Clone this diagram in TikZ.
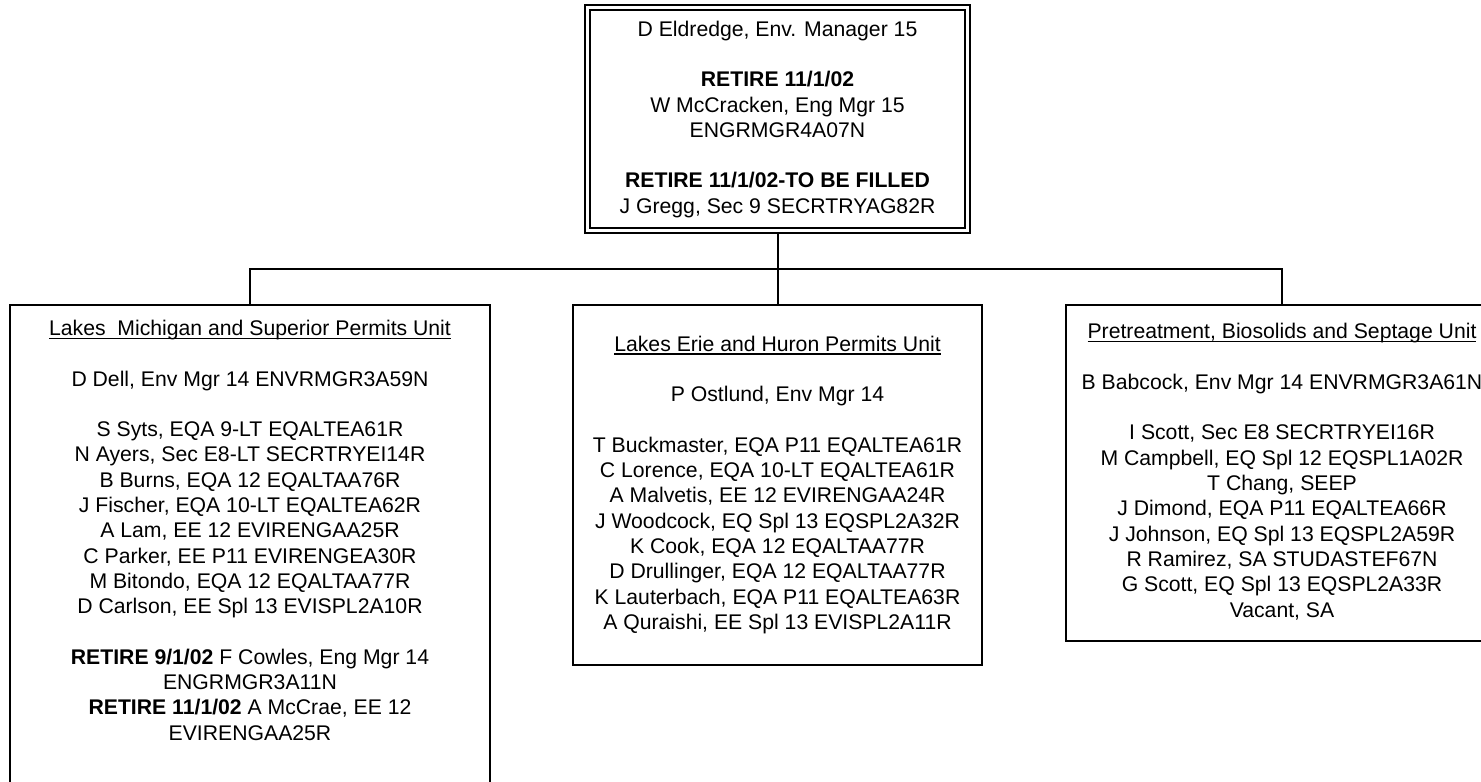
\documentclass[tikz,border=0pt]{standalone}
\usepackage{fontspec}
\setmainfont{Liberation Sans}
\usetikzlibrary{backgrounds}
\newcommand\myul[1]{\setbox0\hbox{#1}\rlap{\rule[-1.7pt]{\wd0}{0.6pt}}\box0}
\newcommand\fstrut{\rule{0pt}{8pt}}
\tikzset{
  boxnode/.style={draw, line width=1pt, inner sep=0pt, rectangle},
  topbox/.style={draw, line width=0.7pt, double, double distance=1.8pt, inner sep=0pt, rectangle},
  txt/.style={anchor=north, inner sep=0pt, align=center, font=\fontsize{10.6pt}{12.65pt}\selectfont},
  conn/.style={draw, line width=1pt}
}
\begin{document}
\begin{tikzpicture}[x=0.5pt, y=-0.5pt]
\useasboundingbox (0,0) rectangle (1481,781);
\clip (0,0) rectangle (1481,781);

\node[topbox, minimum width=190pt, minimum height=111.5pt] (top) at (777.5,119) {};
\node[boxnode, minimum width=240pt, minimum height=247.5pt] (left) at (250,552.5) {};
\node[boxnode, minimum width=204.5pt, minimum height=180pt] (mid) at (777.5,485) {};
\node[boxnode, minimum width=216pt, minimum height=168pt] (right) at (1282,473) {};

\coordinate (bus) at (777.5,269);
\begin{scope}[on background layer]
\fill[white] (0,0) rectangle (1481,781);
\draw[conn] (top.south) -- (bus);
\draw[conn] (left.north) |- (bus) -| (right.north);
\draw[conn] (mid.north) -- (bus);
\end{scope}

\node[txt] (toptxt) at (777.5,19.7) {\fstrut D Eldredge, Env. Manager 15\\[12.65pt]
\textbf{RETIRE 11/1/02}\\
W McCracken, Eng Mgr 15\\
ENGRMGR4A07N\\[12.65pt]
\textbf{RETIRE 11/1/02-TO BE FILLED}\\
J Gregg, Sec 9 SECRTRYAG82R};

\node[txt] (lefttxt) at (250,319) {\fstrut\myul{Lakes\ \ Michigan and Superior Permits Unit}\\[12.65pt]
D Dell, Env Mgr 14 ENVRMGR3A59N\\[12.65pt]
S Syts, EQA 9-LT EQALTEA61R\\
N Ayers, Sec E8-LT SECRTRYEI14R\\
B Burns, EQA 12 EQALTAA76R\\
J Fischer, EQA 10-LT EQALTEA62R\\
A Lam, EE 12 EVIRENGAA25R\\
C Parker, EE P11 EVIRENGEA30R\\
M Bitondo, EQA 12 EQALTAA77R\\
D Carlson, EE Spl 13 EVISPL2A10R\\[12.65pt]
\textbf{RETIRE 9/1/02} F Cowles, Eng Mgr 14\\
ENGRMGR3A11N\\
\textbf{RETIRE 11/1/02} A McCrae, EE 12\\
EVIRENGAA25R};

\node[txt] (midtxt) at (777.5,334.7) {\fstrut\myul{Lakes Erie and Huron Permits Unit}\\[12.65pt]
P Ostlund, Env Mgr 14\\[12.65pt]
T Buckmaster, EQA P11 EQALTEA61R\\
C Lorence, EQA 10-LT EQALTEA61R\\
A Malvetis, EE 12 EVIRENGAA24R\\
J Woodcock, EQ Spl 13 EQSPL2A32R\\
K Cook, EQA 12 EQALTAA77R\\
D Drullinger, EQA 12 EQALTAA77R\\
K Lauterbach, EQA P11 EQALTEA63R\\
A Quraishi, EE Spl 13 EVISPL2A11R};

\node[txt] (righttxt) at (1282,322.3) {\fstrut\myul{Pretreatment, Biosolids and Septage Unit}\\[12.65pt]
B Babcock, Env Mgr 14 ENVRMGR3A61N\\[12.65pt]
I Scott, Sec E8 SECRTRYEI16R\\
M Campbell, EQ Spl 12 EQSPL1A02R\\
T Chang, SEEP\\
J Dimond, EQA P11 EQALTEA66R\\
J Johnson, EQ Spl 13 EQSPL2A59R\\
R Ramirez, SA STUDASTEF67N\\
G Scott, EQ Spl 13 EQSPL2A33R\\
Vacant, SA};
\end{tikzpicture}
\end{document}
